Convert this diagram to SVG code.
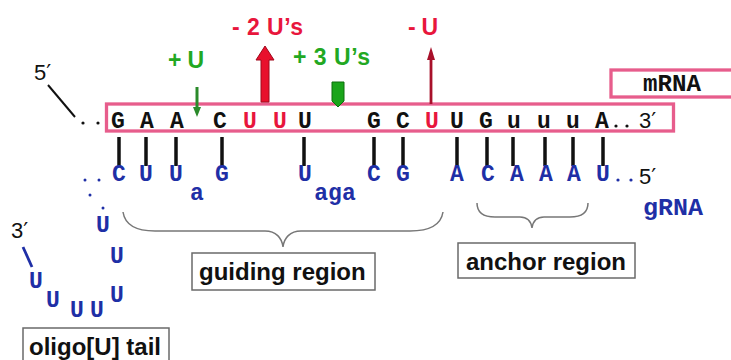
<svg xmlns="http://www.w3.org/2000/svg" width="731" height="360" viewBox="0 0 731 360">
  <style>
    .seq { font-family: "Liberation Mono", "DejaVu Sans Mono", monospace; font-weight: bold; font-size: 23px; text-anchor: middle; }
    .m { fill: #111; }
    .r { fill: #e8163c; }
    .g { fill: #1f2fa6; }
    .end { font-family: "Liberation Sans", Arial, sans-serif; font-size: 22px; fill: #111; }
    .prime { font-family: "DejaVu Sans", sans-serif; font-size: 22px; }
    .lbl { font-family: "Liberation Sans", Arial, sans-serif; font-weight: bold; font-size: 24px; fill: #111; }
    .lblbox { fill: #fff; stroke: #6a6a6a; stroke-width: 1.5; }
    .pink { fill: none; stroke: #e75d8c; stroke-width: 3.3; }
    .pair { stroke: #111; stroke-width: 3.5; }
    .brace { fill: none; stroke: #777; stroke-width: 1.5; }
    .edit { font-family: "Liberation Sans", Arial, sans-serif; font-weight: bold; font-size: 23px; }
  </style>

  <!-- mRNA strand -->
  <g id="mrna">
    <rect class="pink" x="106.5" y="104" width="567" height="27"/>
    <text class="end" x="34" y="80">5<tspan class="prime">′</tspan></text>
    <line x1="48" y1="85" x2="75" y2="117" stroke="#111" stroke-width="2"/>
    <circle cx="83" cy="123" r="1.6" fill="#111"/>
    <circle cx="98" cy="123" r="1.6" fill="#111"/>
    <g class="seq">
      <text class="m" x="118" y="128">G</text>
      <text class="m" x="147" y="128">A</text>
      <text class="m" x="177" y="128">A</text>
      <text class="m" x="220" y="128">C</text>
      <text class="r" x="250" y="128">U</text>
      <text class="r" x="280" y="128">U</text>
      <text class="m" x="305" y="128">U</text>
      <text class="m" x="374" y="128">G</text>
      <text class="m" x="403" y="128">C</text>
      <text class="r" x="432" y="128">U</text>
      <text class="m" x="457" y="128">U</text>
      <text class="m" x="486" y="128">G</text>
      <text class="m" x="514" y="128">u</text>
      <text class="m" x="544" y="128">u</text>
      <text class="m" x="573" y="128">u</text>
      <text class="m" x="602" y="128">A</text>
    </g>
    <circle cx="616" cy="126" r="1.6" fill="#111"/>
    <circle cx="627" cy="126" r="1.6" fill="#111"/>
    <text class="end" x="639" y="128">3<tspan class="prime">′</tspan></text>
  </g>

  <!-- mRNA label -->
  <g id="mrna-label">
    <rect class="pink" x="611" y="70" width="130" height="27" fill="#fff"/>
    <text class="seq m" x="672" y="91" textLength="58" lengthAdjust="spacingAndGlyphs">mRNA</text>
  </g>

  <!-- base pairing -->
  <g id="pairs">
    <line class="pair" x1="119" y1="137" x2="119" y2="166"/>
    <line class="pair" x1="146" y1="137" x2="146" y2="166"/>
    <line class="pair" x1="176" y1="137" x2="176" y2="166"/>
    <line class="pair" x1="222" y1="137" x2="222" y2="166"/>
    <line class="pair" x1="304" y1="137" x2="304" y2="166"/>
    <line class="pair" x1="374" y1="137" x2="374" y2="166"/>
    <line class="pair" x1="403" y1="137" x2="403" y2="166"/>
    <line class="pair" x1="457" y1="137" x2="457" y2="166"/>
    <line class="pair" x1="487" y1="137" x2="487" y2="166"/>
    <line class="pair" x1="513" y1="137" x2="513" y2="166"/>
    <line class="pair" x1="545" y1="137" x2="545" y2="166"/>
    <line class="pair" x1="573" y1="137" x2="573" y2="166"/>
    <line class="pair" x1="603" y1="137" x2="603" y2="166"/>
  </g>

  <!-- gRNA strand -->
  <g id="grna">
    <g class="seq g">
      <text x="119" y="181">C</text>
      <text x="146" y="181">U</text>
      <text x="176" y="181">U</text>
      <text x="222" y="181">G</text>
      <text x="305" y="181">U</text>
      <text x="374" y="181">C</text>
      <text x="403" y="181">G</text>
      <text x="457" y="181">A</text>
      <text x="488" y="181">C</text>
      <text x="517" y="181">A</text>
      <text x="546" y="181">A</text>
      <text x="574" y="181">A</text>
      <text x="603" y="181">U</text>
      <text x="197" y="200">a</text>
      <text x="335" y="200">aga</text>
      <!-- oligo(U) tail -->
      <text x="103" y="232">U</text>
      <text x="117" y="263">U</text>
      <text x="36" y="288">U</text>
      <text x="53" y="307">U</text>
      <text x="77" y="317">U</text>
      <text x="97" y="317">U</text>
      <text x="117" y="302">U</text>
    </g>
    <circle cx="618" cy="180" r="1.6" fill="#1f2fa6"/>
    <circle cx="631" cy="180" r="1.6" fill="#1f2fa6"/>
    <text class="end" x="639" y="184">5<tspan class="prime">′</tspan></text>
    <circle cx="85" cy="180" r="1.5" fill="#1f2fa6"/>
    <circle cx="99" cy="180" r="1.5" fill="#1f2fa6"/>
    <circle cx="90" cy="195" r="1.5" fill="#1f2fa6"/>
    <circle cx="103" cy="208" r="1.5" fill="#1f2fa6"/>
    <text class="end" x="11" y="238">3<tspan class="prime">′</tspan></text>
    <line x1="23" y1="247" x2="32" y2="267" stroke="#1f2fa6" stroke-width="2.8"/>
  </g>

  <!-- gRNA label -->
  <g id="grna-label">
    <text class="seq g" x="673" y="215" textLength="60" lengthAdjust="spacingAndGlyphs">gRNA</text>
  </g>

  <!-- region braces -->
  <g id="connectors">
    <path class="brace" d="M123,212 C125,225 135,231 155,231 L265,231 C276,231 282,238 283,247 C284,238 290,231 301,231 L410,231 C430,231 441,225 443,212"/>
    <path class="brace" d="M477,203 C477,213 483,217 495,217 L520,217 C527,217 531,221 532,228 C533,221 537,217 544,217 L570,217 C582,217 588,213 588,203"/>
  </g>

  <g id="guiding-region">
    <rect class="lblbox" x="192" y="253" width="183" height="37"/>
    <text class="lbl" x="199" y="280">guiding region</text>
  </g>

  <g id="anchor-region">
    <rect class="lblbox" x="458" y="243" width="177" height="35"/>
    <text class="lbl" x="466" y="270">anchor region</text>
  </g>

  <g id="oligo-tail">
    <rect class="lblbox" x="23" y="328" width="146" height="40"/>
    <text class="lbl" x="29" y="355">oligo[U] tail</text>
  </g>

  <!-- editing events -->
  <g id="edit-plus-u">
    <text class="edit" x="168" y="68" fill="#22a822" textLength="36" lengthAdjust="spacing">+ U</text>
    <line x1="197" y1="87" x2="197" y2="109" stroke="#2a8a2a" stroke-width="3"/>
    <polygon points="193,107 201,107 197,117" fill="#2a8a2a"/>
  </g>

  <g id="edit-minus-2u">
    <text class="edit" x="232" y="35" fill="#e8163c" textLength="71" lengthAdjust="spacing">- 2 U’s</text>
    <polygon points="261,102 261,60 256,60 265,46 274,60 269,60 269,102" fill="#e8102c" stroke="#a0081c" stroke-width="1"/>
  </g>

  <g id="edit-plus-3u">
    <text class="edit" x="293" y="65" fill="#22a822" textLength="77" lengthAdjust="spacing">+ 3 U’s</text>
    <polygon points="332,82 344,82 344,101 338,107 332,101" fill="#1aa51a" stroke="#0d6e0d" stroke-width="1"/>
  </g>

  <g id="edit-minus-u">
    <text class="edit" x="408" y="35" fill="#e8163c" textLength="30" lengthAdjust="spacing">- U</text>
    <line x1="431" y1="104" x2="431" y2="58" stroke="#a8102a" stroke-width="2.8"/>
    <polygon points="427,60 435,60 431,47" fill="#a8102a"/>
  </g>
</svg>
